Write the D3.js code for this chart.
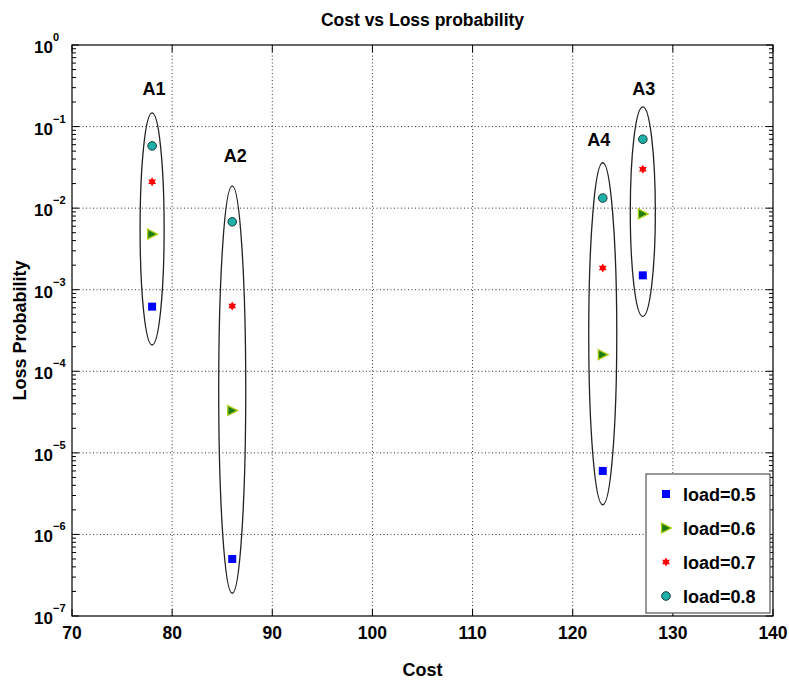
<!DOCTYPE html>
<html>
<head>
<meta charset="utf-8">
<script src="https://cdn.jsdelivr.net/npm/d3@7"></script>
<style>
  body { margin: 0; background: #fff; }
  text { font-family: "Liberation Sans", Arial, sans-serif; }
</style>
</head>
<body>
<div id="chart"></div>
<script>
// Cost vs Loss probability (log scale scatter with grouping ellipses)

const width = 789,
    height = 682,
    margin = ({ top: 45, right: 16, bottom: 66, left: 72 });

// data
const groups = ["A1", "A2", "A4", "A3"];
const costs = [78, 86, 123, 127];
const loads = ["load=0.5", "load=0.6", "load=0.7", "load=0.8"];
const load05 = [6.2e-4, 5.0e-7, 6.0e-6, 1.5e-3];
const load06 = [4.8e-3, 3.3e-5, 1.6e-4, 8.5e-3];
const load07 = [2.1e-2, 6.3e-4, 1.85e-3, 3.0e-2];
const load08 = [5.8e-2, 6.8e-3, 1.33e-2, 7.0e-2];
// ellipse extents (top / bottom value, half width in cost)
const ellTop = [0.147, 0.0187, 0.036, 0.174];
const ellBottom = [2.1e-4, 1.9e-7, 2.3e-6, 4.7e-4];
const ellHalfW = [1.2, 1.35, 1.4, 1.25];
// group label positions
const labelCost = [78.2, 86.3, 122.6, 127.1];
const labelVal = [0.3, 0.045, 0.07, 0.3];

const xTicks = [70, 80, 90, 100, 110, 120, 130, 140];
const yExp = [0, -1, -2, -3, -4, -5, -6, -7];

const series = [load05, load06, load07, load08];

const svg = d3.select("#chart")
    .append("svg")
    .attr("width", width)
    .attr("height", height);

const x = d3.scaleLinear()
    .domain([70, 140])
    .range([margin.left, width - margin.right]);

const y = d3.scaleLog()
    .domain([1e-7, 1])
    .range([height - margin.bottom, margin.top]);

const x0 = margin.left, x1 = width - margin.right,
    y0 = margin.top, y1 = height - margin.bottom;

// grid
const grid = svg.append("g")
    .attr("stroke", "#000")
    .attr("stroke-width", 0.8)
    .attr("stroke-dasharray", "1,2.5");

grid.selectAll(".vg")
  .data(xTicks.slice(1, -1))
  .join("line")
    .attr("x1", d => x(d)).attr("x2", d => x(d))
    .attr("y1", y0).attr("y2", y1);

grid.selectAll(".hg")
  .data(yExp.slice(1, -1))
  .join("line")
    .attr("y1", d => y(Math.pow(10, d))).attr("y2", d => y(Math.pow(10, d)))
    .attr("x1", x0).attr("x2", x1);

// ticks (inward, all four sides)
const ticks = svg.append("g").attr("stroke", "#000").attr("stroke-width", 1);

xTicks.forEach(t => {
  ticks.append("line").attr("x1", x(t)).attr("x2", x(t)).attr("y1", y1).attr("y2", y1 - 7);
  ticks.append("line").attr("x1", x(t)).attr("x2", x(t)).attr("y1", y0).attr("y2", y0 + 7);
});

const minor = [];
yExp.slice(1).forEach(e => {
  for (let k = 2; k <= 9; k++) minor.push(k * Math.pow(10, e));
});
minor.forEach(v => {
  ticks.append("line").attr("x1", x0).attr("x2", x0 + 4).attr("y1", y(v)).attr("y2", y(v));
  ticks.append("line").attr("x1", x1).attr("x2", x1 - 4).attr("y1", y(v)).attr("y2", y(v));
});
yExp.forEach(e => {
  const v = Math.pow(10, e);
  ticks.append("line").attr("x1", x0).attr("x2", x0 + 7).attr("y1", y(v)).attr("y2", y(v));
  ticks.append("line").attr("x1", x1).attr("x2", x1 - 7).attr("y1", y(v)).attr("y2", y(v));
});

// frame
svg.append("rect")
    .attr("x", x0).attr("y", y0)
    .attr("width", x1 - x0).attr("height", y1 - y0)
    .attr("fill", "none")
    .attr("stroke", "#000")
    .attr("stroke-width", 1.2);

// x tick labels
svg.append("g")
  .selectAll("text")
  .data(xTicks)
  .join("text")
    .attr("x", d => x(d))
    .attr("y", y1 + 23)
    .attr("text-anchor", "middle")
    .attr("font-size", 17.5)
    .attr("font-weight", "bold")
    .text(d => d);

// y tick labels: 10^e
const yl = svg.append("g");
yExp.forEach(e => {
  const yy = y(Math.pow(10, e));
  yl.append("text")
      .attr("x", 53)
      .attr("y", yy + 8)
      .attr("text-anchor", "end")
      .attr("font-size", 17)
      .attr("font-weight", "bold")
      .text("10");
  yl.append("text")
      .attr("x", 53)
      .attr("y", yy - 4)
      .attr("font-size", 11)
      .attr("font-weight", "bold")
      .text(e === 0 ? "0" : "\u2212" + Math.abs(e));
});

// titles
svg.append("text")
    .attr("x", (x0 + x1) / 2)
    .attr("y", 26)
    .attr("text-anchor", "middle")
    .attr("font-size", 17.5)
    .attr("font-weight", "bold")
    .text("Cost vs Loss probability");

svg.append("text")
    .attr("x", (x0 + x1) / 2)
    .attr("y", 676)
    .attr("text-anchor", "middle")
    .attr("font-size", 18)
    .attr("font-weight", "bold")
    .text("Cost");

svg.append("text")
    .attr("transform", `translate(26,${(y0 + y1) / 2}) rotate(-90)`)
    .attr("text-anchor", "middle")
    .attr("font-size", 18)
    .attr("font-weight", "bold")
    .text("Loss Probability");

// ellipses
svg.append("g")
  .selectAll("ellipse")
  .data(costs)
  .join("ellipse")
    .attr("cx", d => x(d))
    .attr("cy", (d, i) => (y(ellTop[i]) + y(ellBottom[i])) / 2)
    .attr("rx", (d, i) => x(d + ellHalfW[i]) - x(d))
    .attr("ry", (d, i) => (y(ellBottom[i]) - y(ellTop[i])) / 2)
    .attr("fill", "none")
    .attr("stroke", "#222")
    .attr("stroke-width", 1.3);

// group labels
svg.append("g")
  .selectAll("text")
  .data(groups)
  .join("text")
    .attr("x", (d, i) => x(labelCost[i]))
    .attr("y", (d, i) => y(labelVal[i]) + 7)
    .attr("text-anchor", "middle")
    .attr("font-size", 18)
    .attr("font-weight", "bold")
    .text(d => d);

// marker drawing
function hexagram(r) {
  const p = [];
  for (let k = 0; k < 12; k++) {
    const a = -Math.PI / 2 + k * Math.PI / 6;
    const rr = k % 2 === 0 ? r : r * 0.58;
    p.push([rr * Math.cos(a), rr * Math.sin(a)]);
  }
  return "M" + p.map(q => q.join(",")).join("L") + "Z";
}

function drawMarker(g, s, cx, cy) {
  if (s === 0) {
    g.append("rect")
        .attr("x", cx - 4).attr("y", cy - 4)
        .attr("width", 8).attr("height", 8)
        .attr("fill", "#0000ff");
  } else if (s === 1) {
    g.append("path")
        .attr("d", `M${cx - 4.5},${cy - 5}L${cx + 5.5},${cy}L${cx - 4.5},${cy + 5}Z`)
        .attr("fill", "#1e7d12")
        .attr("stroke", "#b5cf1a")
        .attr("stroke-width", 1.3);
  } else if (s === 2) {
    g.append("path")
        .attr("transform", `translate(${cx},${cy})`)
        .attr("d", hexagram(4.5))
        .attr("fill", "#ff0000");
  } else {
    g.append("circle")
        .attr("cx", cx).attr("cy", cy).attr("r", 4.3)
        .attr("fill", "#1fb0a8")
        .attr("stroke", "#1a3a3a")
        .attr("stroke-width", 1);
  }
}

const marks = svg.append("g");
series.forEach((vals, s) => {
  vals.forEach((v, i) => drawMarker(marks, s, x(costs[i]), y(v)));
});

// legend
const lg = svg.append("g");
lg.append("rect")
    .attr("x", 646).attr("y", 474)
    .attr("width", 124).attr("height", 139)
    .attr("fill", "#fff")
    .attr("stroke", "#555")
    .attr("stroke-width", 1.2);

loads.forEach((name, s) => {
  const ly = 494 + s * 34;
  drawMarker(lg, s, 666, ly);
  lg.append("text")
      .attr("x", 683)
      .attr("y", ly + 6.5)
      .attr("font-size", 18)
      .attr("font-weight", "bold")
      .text(name);
});
</script>
</body>
</html>
